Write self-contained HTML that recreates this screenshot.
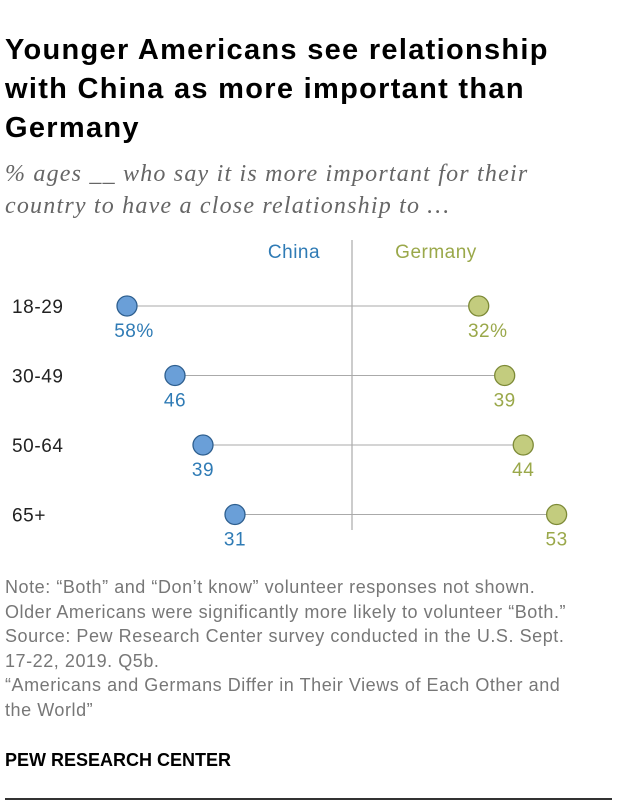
<!DOCTYPE html>
<html><head><meta charset="utf-8"><style>
body{margin:0;background:#fff;width:620px;height:810px;overflow:hidden;font-family:"Liberation Sans",sans-serif;}
.t{position:absolute;left:5px;top:31px;font-size:29px;letter-spacing:1.3px;font-weight:bold;line-height:39px;color:#000;width:615px;white-space:nowrap}
.s{position:absolute;left:5px;top:158px;font-family:"Liberation Serif",serif;font-style:italic;font-size:24px;letter-spacing:1.2px;line-height:32px;color:#666;white-space:nowrap}
.n{position:absolute;left:5px;top:575px;font-size:18px;letter-spacing:0.55px;line-height:24.5px;color:#777;white-space:nowrap}
.p{position:absolute;left:5px;top:750px;font-size:18px;font-weight:bold;color:#000}
.r{position:absolute;left:5px;top:798px;width:607px;height:2px;background:#333}
</style></head><body>
<div class="t">Younger Americans see relationship<br>with China as more important than<br>Germany</div>
<div class="s">% ages __ who say it is more important for their<br>country to have a close relationship to …</div>
<svg width="620" height="810" style="position:absolute;left:0;top:0">
<line x1="352" y1="240" x2="352" y2="530" stroke="#999" stroke-width="1"/>
<text x="294" y="258" fill="#2f7bb5" font-size="19" letter-spacing="0.5" text-anchor="middle" font-family="Liberation Sans">China</text>
<text x="436" y="258" fill="#9aa84a" font-size="19" letter-spacing="0.5" text-anchor="middle" font-family="Liberation Sans">Germany</text>
<g id="g"></g>
</svg>
<div class="n">Note: “Both” and “Don’t know” volunteer responses not shown.<br>Older Americans were significantly more likely to volunteer “Both.”<br>Source: Pew Research Center survey conducted in the U.S. Sept.<br>17-22, 2019. Q5b.<br>“Americans and Germans Differ in Their Views of Each Other and<br>the World”</div>
<div class="p">PEW RESEARCH CENTER</div>
<div class="r"></div>
<script>
const categories=["18-29","30-49","50-64","65+"];
const china=[58,46,39,31];
const germany=[32,39,44,53];
const chinaLabels=["58%","46","39","31"];
const germanyLabels=["32%","39","44","53"];
const cx=v=>359-v*4.0;
const gx=v=>360+v*3.71;
const ry=i=>306+i*69.5;
const g=document.getElementById('g');
const NS="http://www.w3.org/2000/svg";
function mk(tag,at,txt){const e=document.createElementNS(NS,tag);for(const k in at)e.setAttribute(k,at[k]);if(txt!==undefined)e.textContent=txt;g.appendChild(e);return e;}
categories.forEach((c,i)=>{
 const y=ry(i),x1=cx(china[i]),x2=gx(germany[i]);
 let e=mk('text',{x:12,y:y+7,'font-size':19,'letter-spacing':0.6,fill:'#222','font-family':'Liberation Sans'},c);
 
 
 e=mk('line',{x1:x1,y1:y,x2:x2,y2:y,stroke:'#aaa','stroke-width':1});
 
 
 e=mk('circle',{cx:x1,cy:y,r:10,fill:'#6a9fd8',stroke:'#2e5f8f','stroke-width':1.3});
 
 
 e=mk('circle',{cx:x2,cy:y,r:10,fill:'#c3cc7e',stroke:'#7d8a37','stroke-width':1.3});
 
 
 e=mk('text',{x:x1+(i==0?7:0),y:y+31,'font-size':19,'letter-spacing':0.5,fill:'#2f7bb5','text-anchor':'middle','font-family':'Liberation Sans'},chinaLabels[i]);
 
 
 e=mk('text',{x:x2+(i==0?9:0),y:y+31,'font-size':19,'letter-spacing':0.5,fill:'#9aa84a','text-anchor':'middle','font-family':'Liberation Sans'},germanyLabels[i]);
 
 
});
</script>
</body></html>
